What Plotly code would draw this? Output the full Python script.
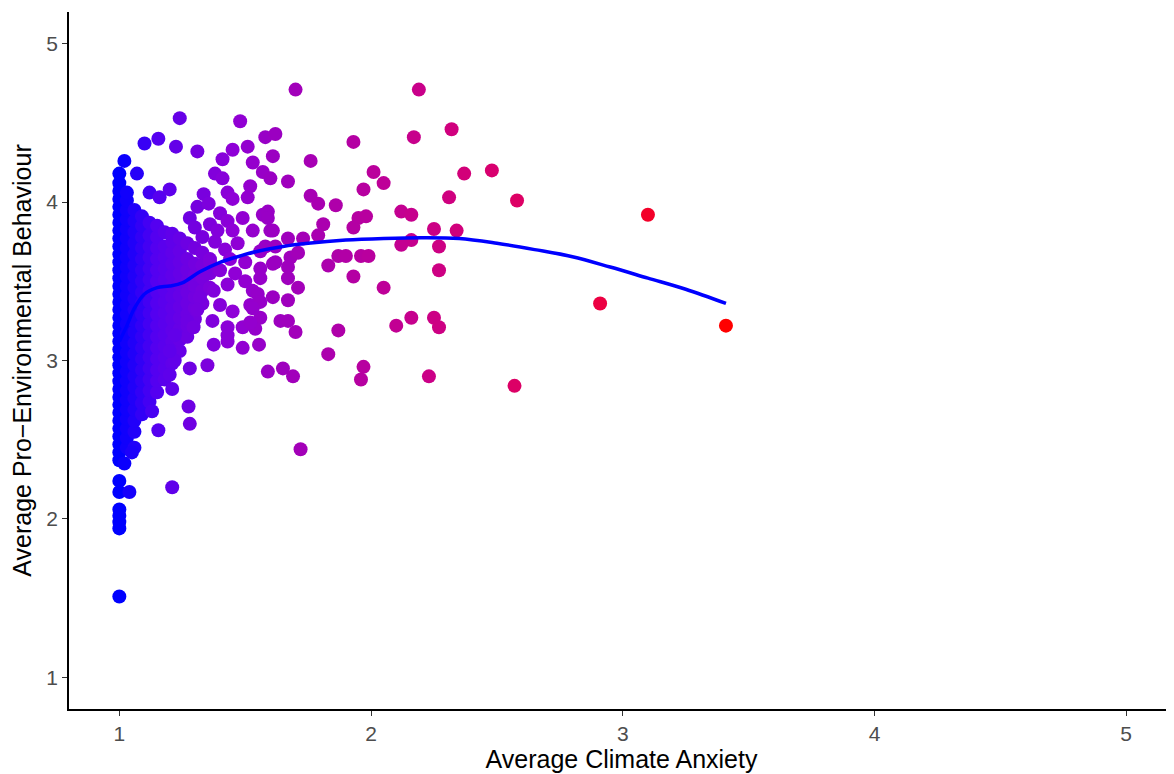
import plotly.graph_objects as go

# ---- dense core: participants with low anxiety (columns of overlapping points) ----
core_x_levels = [1.00, 1.03, 1.06, 1.09, 1.12, 1.15, 1.18, 1.21, 1.24, 1.27, 1.30, 1.33, 1.36]
y_at_100 = [1.51, 1.94, 1.98, 2.02, 2.06, 2.17, 2.24, 2.37, 2.42, 2.47, 2.52, 2.57, 2.62, 2.67,
            2.72, 2.77, 2.82, 2.87, 2.92, 2.97, 3.02, 3.07, 3.12, 3.17, 3.22, 3.27, 3.32,
            3.37, 3.42, 3.47, 3.52, 3.57, 3.62, 3.67, 3.72, 3.77, 3.82, 3.87, 3.92, 3.97,
            4.02, 4.07, 4.12, 4.18]
y_at_103 = [2.45, 2.51, 2.57, 2.63, 2.69, 2.75, 2.81, 2.87, 2.93, 2.99, 3.05, 3.11, 3.17, 3.23,
            3.29, 3.35, 3.41, 3.47, 3.53, 3.59, 3.65, 3.71, 3.77, 3.83, 3.89, 3.95, 4.01, 4.06]
y_at_106 = [2.55, 2.62, 2.69, 2.76, 2.83, 2.90, 2.97, 3.04, 3.11, 3.18, 3.25, 3.32, 3.39, 3.46,
            3.53, 3.60, 3.67, 3.74, 3.81, 3.88, 3.95]
y_at_109 = [2.66, 2.73, 2.80, 2.87, 2.94, 3.01, 3.08, 3.15, 3.22, 3.29, 3.36, 3.43, 3.50, 3.57,
            3.64, 3.71, 3.78, 3.85, 3.91]
y_at_112 = [2.74, 2.81, 2.88, 2.95, 3.02, 3.09, 3.16, 3.23, 3.30, 3.37, 3.44, 3.51, 3.58, 3.65,
            3.72, 3.79, 3.87]
y_at_115 = [2.80, 2.87, 2.94, 3.01, 3.08, 3.15, 3.22, 3.29, 3.36, 3.43, 3.50, 3.57, 3.64, 3.71,
            3.78, 3.85]
y_at_118 = [2.88, 2.95, 3.02, 3.09, 3.16, 3.23, 3.30, 3.37, 3.44, 3.51, 3.58, 3.65, 3.72, 3.81]
y_at_121 = [2.98, 3.05, 3.12, 3.19, 3.26, 3.33, 3.40, 3.47, 3.54, 3.61, 3.68, 3.75, 3.80]
y_at_124 = [3.06, 3.13, 3.20, 3.27, 3.34, 3.41, 3.48, 3.55, 3.62, 3.69, 3.77]
y_at_127 = [3.15, 3.22, 3.29, 3.36, 3.43, 3.50, 3.57, 3.64, 3.74]
y_at_130 = [3.26, 3.33, 3.40, 3.47, 3.54, 3.61, 3.71]
y_at_133 = [3.36, 3.44, 3.52, 3.60, 3.68]
y_at_136 = [3.46, 3.55, 3.64]
core_columns_y = [y_at_100, y_at_103, y_at_106, y_at_109, y_at_112, y_at_115, y_at_118,
                  y_at_121, y_at_124, y_at_127, y_at_130, y_at_133, y_at_136]

# ---- individually visible points (anxiety, behaviour) ----
scatter_x = [1.02, 1.07, 1.10, 1.155, 1.225, 1.24, 1.31, 1.12, 1.16, 1.20, 1.335, 1.31, 1.355,
             1.38, 1.41, 1.41, 1.43, 1.45, 1.45, 1.48, 1.51, 1.53, 1.57, 1.60, 1.58, 1.62,
             1.61, 1.52, 1.51, 1.40, 1.57, 1.59, 1.60, 1.67, 1.70, 1.76, 1.76, 1.79, 1.86,
             1.28, 1.36, 1.43, 1.45, 1.53, 1.59, 1.61, 1.67, 1.56, 1.61, 1.68, 1.56, 1.67,
             1.53, 1.61, 1.43, 1.375, 1.32, 1.40, 1.45, 1.52, 1.56, 1.64, 1.49, 1.43, 1.58,
             1.62, 1.62, 1.56, 1.55, 1.56, 1.53, 1.54, 1.52, 1.555,
             1.33, 1.38, 1.42, 1.47, 1.50, 1.36, 1.40, 1.46, 1.49, 1.39, 1.34, 1.44, 1.30, 1.50,
             1.375, 1.43, 1.49, 1.59, 1.65, 1.69, 1.28, 1.35, 1.22, 1.20, 1.21, 1.275, 1.28,
             1.155, 1.13, 1.06, 1.37, 1.43, 1.31, 1.27, 1.295, 1.22, 1.20, 1.04, 1.21, 1.02,
             1.05, 1.72,
             2.19, 2.32, 2.17, 1.93, 2.01, 2.05, 2.37, 2.48, 1.97, 2.31, 2.58, 2.12, 2.16, 1.95,
             1.98, 1.93, 1.81, 1.79, 1.73, 2.25, 2.34, 2.16, 2.12, 2.27, 1.71, 1.87, 1.90, 1.96,
             1.99, 1.83, 1.67, 2.27, 1.93, 2.05, 1.71, 1.67, 1.67, 1.70, 1.87, 2.10, 2.16, 2.25,
             2.27, 1.83, 1.97, 1.96, 2.23, 2.57, 2.91, 3.10, 3.41]
scatter_y = [4.26, 4.18, 4.37, 4.40, 4.35, 4.53, 4.32, 4.06, 4.03, 4.08, 4.05, 3.97, 3.99,
             4.18, 4.27, 4.15, 4.06, 4.02, 4.33, 4.51, 4.35, 4.25, 4.19, 4.15, 4.41, 4.43,
             4.29, 4.10, 4.03, 3.93, 3.92, 3.94, 3.82, 4.13, 4.71, 4.26, 4.04, 3.99, 3.98,
             3.90, 3.86, 3.88, 3.82, 3.82, 3.90, 3.82, 3.77, 3.69, 3.61, 3.65, 3.52, 3.52,
             3.44, 3.40, 3.48, 3.44, 3.40, 3.35, 3.31, 3.35, 3.27, 3.25, 3.21, 3.16, 3.72,
             3.72, 3.62, 3.58, 3.42, 3.37, 3.33, 3.20, 3.24, 3.10,
             3.78, 3.75, 3.70, 3.74, 3.62, 3.62, 3.57, 3.55, 3.90, 3.82, 3.55, 3.64, 3.84, 3.50,
             3.10, 3.12, 3.08, 2.93, 2.95, 2.90, 2.95, 2.97, 3.00, 2.91, 2.82, 2.71, 2.60,
             2.56, 2.68, 2.45, 3.25, 3.21, 3.32, 3.25, 3.21, 3.16, 3.06, 2.17, 2.20, 2.35,
             2.42, 2.44,
             4.71, 4.46, 4.41, 4.38, 4.19, 4.12, 4.18, 4.20, 4.08, 4.03, 4.01, 3.94, 3.92, 3.90,
             3.91, 3.84, 3.86, 3.79, 3.77, 3.83, 3.82, 3.76, 3.73, 3.72, 3.68, 3.66, 3.66, 3.66,
             3.66, 3.60, 3.59, 3.57, 3.53, 3.46, 3.46, 3.38, 3.25, 3.18, 3.19, 3.22, 3.27, 3.27,
             3.21, 3.04, 2.96, 2.88, 2.90, 2.84, 3.36, 3.92, 3.22]

# ---- loess smooth ----
smooth_x = [1.00, 1.03, 1.06, 1.10, 1.15, 1.20, 1.25, 1.32, 1.40, 1.48, 1.55, 1.65, 1.75,
            1.90, 2.05, 2.20, 2.35, 2.50, 2.65, 2.80, 2.95, 3.10, 3.25, 3.41]
smooth_y = [3.12, 3.22, 3.33, 3.42, 3.46, 3.47, 3.49, 3.56, 3.62, 3.66, 3.69, 3.72, 3.74,
            3.76, 3.77, 3.775, 3.77, 3.74, 3.70, 3.655, 3.59, 3.52, 3.45, 3.36]

x_ticks = [1, 2, 3, 4, 5]
y_ticks = [1, 2, 3, 4, 5]

# assemble points
anx, peb = [], []
for xv, ys in zip(core_x_levels, core_columns_y):
    anx += [xv] * len(ys)
    peb += ys
anx += scatter_x
peb += scatter_y

cmin, cmax = min(anx), max(anx)
colorscale = [
    [0.0, "rgb(0,0,255)"],
    [0.0625, "rgb(84,0,240)"],
    [0.125, "rgb(115,0,224)"],
    [0.1875, "rgb(143,0,215)"],
    [0.25, "rgb(154,0,195)"],
    [0.5, "rgb(202,0,137)"],
    [0.75, "rgb(232,0,79)"],
    [1.0, "rgb(255,0,0)"],
]

FONT = "Liberation Sans, Arial, sans-serif"

fig = go.Figure()
fig.add_trace(go.Scatter(
    x=anx, y=peb, mode="markers",
    marker=dict(size=14, color=anx, colorscale=colorscale, cmin=cmin, cmax=cmax,
                line=dict(width=0), showscale=False),
    showlegend=False, hoverinfo="x+y",
))
fig.add_trace(go.Scatter(
    x=smooth_x, y=smooth_y, mode="lines",
    line=dict(color="#0000FF", width=3.5, shape="spline"),
    showlegend=False, hoverinfo="skip",
))

axis_common = dict(
    showgrid=False, zeroline=False, showline=True, linecolor="black", linewidth=1.6,
    ticks="outside", ticklen=5, tickwidth=1.4, tickcolor="#333333",
    tickfont=dict(family=FONT, size=21, color="#4D4D4D"),
    automargin=False, mirror=False,
)
fig.update_xaxes(
    **axis_common, range=[0.8, 5.19], tickvals=x_ticks, ticktext=[str(t) for t in x_ticks],
    title=dict(text="Average Climate Anxiety", standoff=2,
               font=dict(family=FONT, size=25, color="black")),
)
fig.update_yaxes(
    **axis_common, range=[0.8, 5.2], tickvals=y_ticks, ticktext=[str(t) for t in y_ticks],
    title=dict(text="Average Pro\u2212Environmental Behaviour", standoff=10,
               font=dict(family=FONT, size=25, color="black")),
)
# the page body adds an 8 px margin, so the figure is 8 px smaller on each axis
fig.update_layout(
    width=1166, height=766,
    margin=dict(l=61, r=0, t=4, b=65),
    plot_bgcolor="white", paper_bgcolor="white",
)

fig.write_html("out.html")
